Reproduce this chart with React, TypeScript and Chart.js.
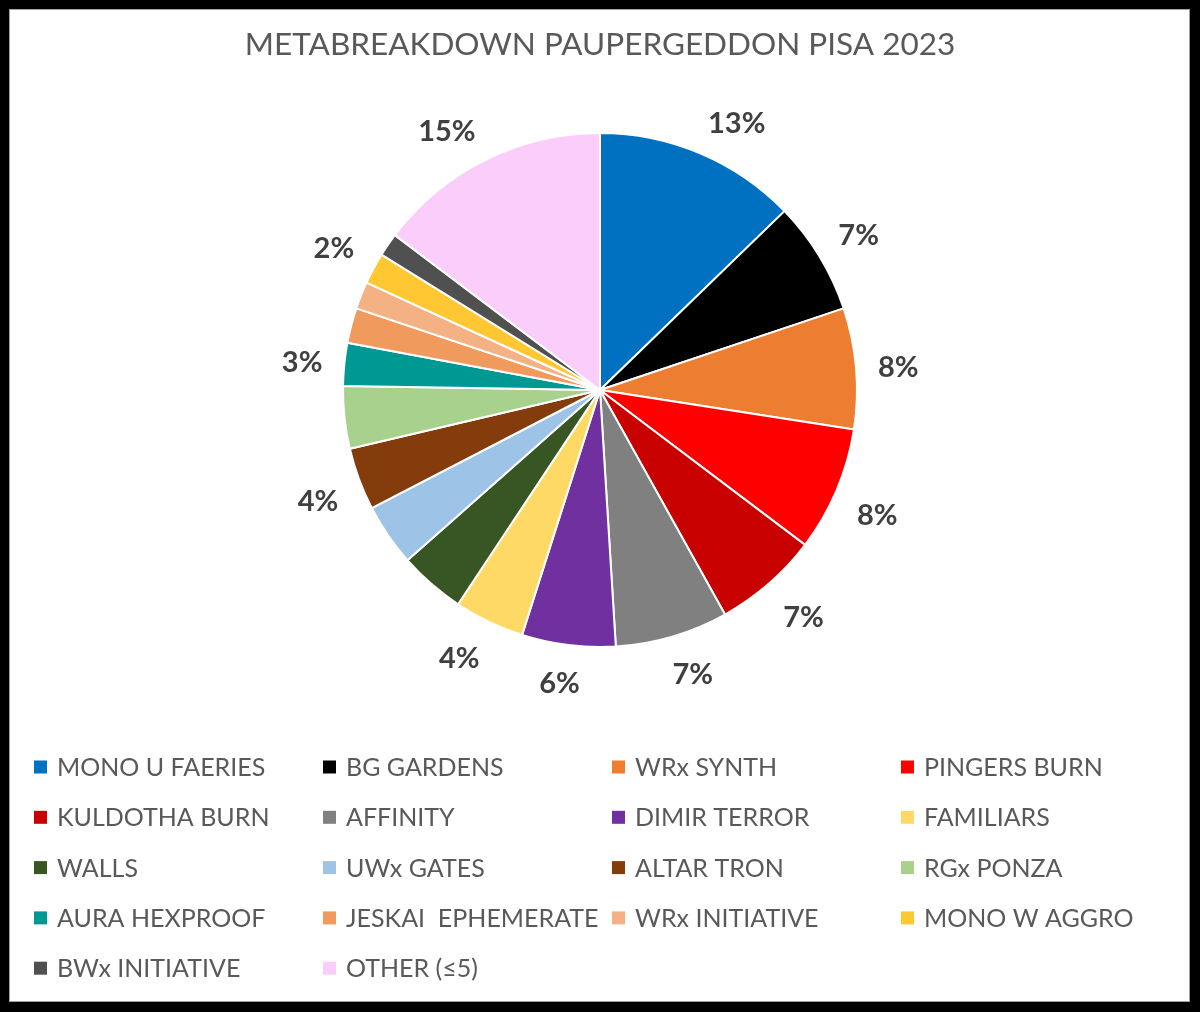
import React, { useEffect, useRef } from "react";
import { Chart, registerables } from "chart.js";

Chart.register(...registerables);

const TITLE = "METABREAKDOWN PAUPERGEDDON PISA 2023";

const ARCHETYPES = [
  "MONO U FAERIES",
  "BG GARDENS",
  "WRx SYNTH",
  "PINGERS BURN",
  "KULDOTHA BURN",
  "AFFINITY",
  "DIMIR TERROR",
  "FAMILIARS",
  "WALLS",
  "UWx GATES",
  "ALTAR TRON",
  "RGx PONZA",
  "AURA HEXPROOF",
  "JESKAI  EPHEMERATE",
  "WRx INITIATIVE",
  "MONO W AGGRO",
  "BWx INITIATIVE",
  "OTHER (\u22645)",
];

const PLAYERS = [52, 29, 31, 32, 27, 29, 24, 18, 17, 16, 16, 16, 11, 9, 7, 8, 6, 60];

const COLORS = [
  "#0070C0",
  "#000000",
  "#ED7D31",
  "#FF0000",
  "#C80000",
  "#808080",
  "#7030A0",
  "#FFD966",
  "#375623",
  "#9DC3E6",
  "#843C0C",
  "#A9D18E",
  "#009893",
  "#F09A5E",
  "#F4B183",
  "#FFC832",
  "#505050",
  "#FACDFA",
];

const SHOW_LABEL = [
  true, true, true, true, true, true, true, true, false,
  false, true, false, true, false, false, true, false, true,
];

const FONT = "Lato, 'Open Sans', sans-serif";

const clamp = (v: number) => Math.max(-1, Math.min(1, v));

const decorPlugin = {
  id: "decor",
  afterDatasetsDraw(chart: any) {
    const ctx = chart.ctx;
    const meta = chart.getDatasetMeta(0);
    const data = chart.data.datasets[0].data as number[];
    const total = data.reduce((a, b) => a + b, 0);
    ctx.save();
    ctx.font = `bold 29px ${FONT}`;
    ctx.fillStyle = "#404040";
    ctx.textAlign = "center";
    ctx.textBaseline = "middle";
    meta.data.forEach((arc: any, i: number) => {
      if (!SHOW_LABEL[i]) return;
      const p = arc.getProps(["x", "y", "startAngle", "endAngle", "outerRadius"], true);
      const mid = (p.startAngle + p.endAngle) / 2;
      const dx = Math.cos(mid);
      const dy = Math.sin(mid);
      const txt = Math.round((data[i] / total) * 100) + "%";
      const w = ctx.measureText(txt).width;
      const h = 26;
      const r = p.outerRadius + 22;
      const x = p.x + dx * r + (w / 2) * clamp(2.5 * dx);
      const y = p.y + dy * r + (h / 2) * clamp(2.5 * dy) + 4;
      ctx.fillText(txt, x, y);
    });
    ctx.restore();
  },
  afterDraw(chart: any) {
    const ctx = chart.ctx;
    ctx.save();
    // title
    ctx.font = `normal 31.5px ${FONT}`;
    ctx.fillStyle = "#595959";
    ctx.textAlign = "center";
    ctx.textBaseline = "middle";
    ctx.fillText(TITLE, 600, 45);
    // legend
    const labels = chart.data.labels as string[];
    const colors = chart.data.datasets[0].backgroundColor as string[];
    ctx.font = `normal 25px ${FONT}`;
    ctx.textAlign = "left";
    labels.forEach((lab, i) => {
      const col = i % 4;
      const row = Math.floor(i / 4);
      const x = 34 + col * 289;
      const y = 767 + row * 50.3;
      ctx.fillStyle = colors[i];
      ctx.fillRect(x, y - 6.5, 13, 13);
      ctx.fillStyle = "#595959";
      ctx.fillText(lab, x + 23, y + 1);
    });
    ctx.restore();
  },
};

function PieChart() {
  const ref = useRef<HTMLCanvasElement | null>(null);
  useEffect(() => {
    if (!ref.current) return;
    const chart = new Chart(ref.current, {
      type: "pie",
      data: {
        labels: ARCHETYPES,
        datasets: [
          {
            data: PLAYERS,
            backgroundColor: COLORS,
            borderColor: "#ffffff",
            borderWidth: 2,
          },
        ],
      },
      options: {
        responsive: false,
        animation: false,
        radius: 257,
        layout: { padding: { left: 343, right: 343, top: 133, bottom: 365 } },
        plugins: {
          legend: { display: false },
          title: { display: false },
          tooltip: { enabled: false },
        },
      } as any,
      plugins: [decorPlugin],
    });
    return () => chart.destroy();
  }, []);
  return (
    <canvas
      ref={ref}
      width={1200}
      height={1012}
      style={{ position: "absolute", left: 0, top: 0, width: 1200, height: 1012 }}
    />
  );
}

export default function App() {
  return (
    <div style={{ position: "relative", width: 1200, height: 1012, background: "#000", overflow: "hidden" }}>
      <style>{`body{margin:0;}`}</style>
      <div
        style={{
          position: "absolute",
          left: 9,
          top: 9,
          width: 1181,
          height: 993,
          background: "#fff",
          boxSizing: "border-box",
          border: "1px solid #a0a0a0",
        }}
      />
      <PieChart />
    </div>
  );
}
